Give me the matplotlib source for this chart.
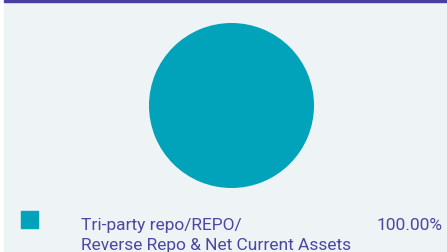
import matplotlib.pyplot as plt
from matplotlib.patches import Rectangle

labels = ["Tri-party repo/REPO/\nReverse Repo & Net Current Assets"]
values = [100.0]
colors = ["#00A3B9"]

W, H = 447, 252
fig = plt.figure(figsize=(W / 100, H / 100), dpi=100)
fig.patch.set_facecolor("white")
ax = fig.add_axes([0, 0, 1, 1])

# panel background and top rule
ax.add_patch(Rectangle((4, 0), W - 4, H, color="#EEF3F6", zorder=0))
ax.add_patch(Rectangle((4, 0), W - 4, 2, color="#4A3F9E", zorder=1))

ax.pie(values, colors=colors, center=(231.5, 105.5), radius=82.5,
       startangle=90, counterclock=False, frame=True,
       wedgeprops={"linewidth": 0})
ax.set_xlim(0, W)
ax.set_ylim(H, 0)
ax.set_aspect("equal")
ax.axis("off")

text_color = "#4B47A2"
font = ["Roboto", "DejaVu Sans"]
for lab, val, col in zip(labels, values, colors):
    first, second = lab.split("\n")
    ax.add_patch(Rectangle((21, 211), 17, 17, color=col, zorder=2))
    ax.text(81, 230, first, fontsize=12.5, family=font,
            color=text_color, va="baseline", ha="left")
    ax.text(81, 250, second, fontsize=12.5, family=font,
            color=text_color, va="baseline", ha="left")
    ax.text(443, 230, f"{val:.2f}%", fontsize=12.5, family=font,
            color=text_color, va="baseline", ha="right")

fig.savefig("out.png", dpi=100)
